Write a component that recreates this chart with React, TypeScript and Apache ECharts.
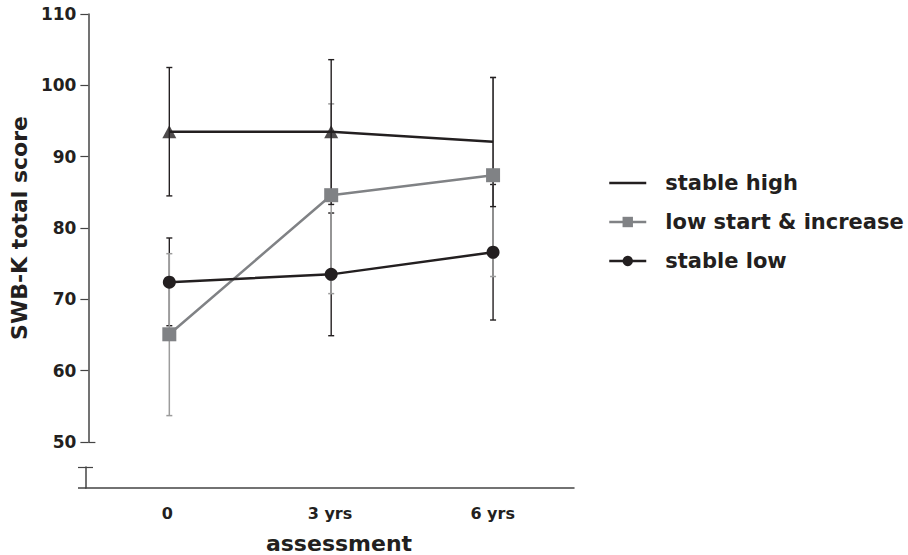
import React, { useEffect, useRef } from "react";
import * as echarts from "echarts";

const categories = ["0", "3 yrs", "6 yrs"];

const stableHigh = [93.5, 93.5, 92.1];
const stableHighMarkers: (number | string)[] = [93.5, 93.5, "-"];
const stableHighErr = [
  [84.5, 102.5],
  [83.3, 103.6],
  [83.0, 101.1],
];

const lowStart = [65.1, 84.6, 87.4];
const lowStartErr = [
  [53.7, 76.4],
  [70.8, 97.4],
  [73.2, 101.1],
];

const stableLow = [72.4, 73.5, 76.6];
const stableLowErr = [
  [66.3, 78.6],
  [64.9, 82.1],
  [67.1, 86.1],
];

const BLACK = "#231f20";
const GRAY = "#808285";
const GRAY_ERR = "#9c9c9c";
const FONT = "DejaVu Sans";

const GRID_LEFT = 86;
const GRID_RIGHT = 334;

function errRender(color: string, lw: number, cap: number) {
  return (params: any, api: any) => {
    const x = api.value(0);
    const lo = api.value(1);
    const hi = api.value(2);
    const a = api.coord([x, lo]);
    const b = api.coord([x, hi]);
    const st = { stroke: color, lineWidth: lw };
    return {
      type: "group",
      children: [
        { type: "line", shape: { x1: a[0], y1: a[1], x2: b[0], y2: b[1] }, style: st },
        { type: "line", shape: { x1: a[0] - cap, y1: a[1], x2: a[0] + cap, y2: a[1] }, style: st },
        { type: "line", shape: { x1: b[0] - cap, y1: b[1], x2: b[0] + cap, y2: b[1] }, style: st },
      ],
    };
  };
}

function errData(arr: number[][]) {
  return arr.map((r, i) => [i, r[0], r[1]]);
}

export default function App() {
  const ref = useRef<HTMLDivElement>(null);
  useEffect(() => {
    if (!ref.current) return;
    const chart = echarts.init(ref.current, undefined, { renderer: "svg" });
    const labelStyle = { fontFamily: FONT, fontWeight: "bold" as const, color: BLACK };
    chart.setOption({
      animation: false,
      backgroundColor: "#ffffff",
      grid: [
        { left: GRID_LEFT, right: GRID_RIGHT, top: 14, height: 428 },
        { left: GRID_LEFT, right: GRID_RIGHT, top: 467, height: 21 },
      ],
      xAxis: [
        {
          type: "category",
          gridIndex: 0,
          data: categories,
          boundaryGap: true,
          show: false,
        },
        {
          type: "category",
          gridIndex: 1,
          data: categories,
          boundaryGap: true,
          axisLine: { lineStyle: { color: "#444", width: 1.5 } },
          axisTick: { alignWithLabel: true, length: 6, lineStyle: { color: "#444", width: 1.2 } },
          axisLabel: { ...labelStyle, fontSize: 16, margin: 17 },
          name: "assessment",
          nameLocation: "middle",
          nameGap: 44,
          nameTextStyle: { ...labelStyle, fontSize: 22, padding: [0, 0, 0, 18] },
        },
      ],
      yAxis: [
        {
          type: "value",
          gridIndex: 0,
          min: 50,
          max: 110,
          interval: 10,
          splitLine: { show: false },
          axisLine: { show: true, lineStyle: { color: "#444", width: 1.5 } },
          axisTick: { show: true, length: 8, lineStyle: { color: "#444", width: 1.2 } },
          axisLabel: { ...labelStyle, fontSize: 17, margin: 12 },
          name: "SWB-K total score",
          nameLocation: "middle",
          nameGap: 58,
          nameTextStyle: { ...labelStyle, fontSize: 22 },
        },
        {
          type: "value",
          gridIndex: 0,
          min: 50,
          max: 110,
          position: "left",
          splitLine: { show: false },
          axisLine: { show: false },
          axisLabel: { show: false },
          axisTick: {
            show: true,
            inside: true,
            length: 7,
            customValues: [50],
            lineStyle: { color: "#444", width: 1.2 },
          },
        },
        {
          type: "value",
          gridIndex: 1,
          min: 0,
          max: 1,
          splitLine: { show: false },
          axisLine: { show: true, lineStyle: { color: "#444", width: 1.5 } },
          axisLabel: { show: false },
          axisTick: {
            show: true,
            length: 8,
            customValues: [1],
            lineStyle: { color: "#444", width: 1.2 },
          },
        },
        {
          type: "value",
          gridIndex: 1,
          min: 0,
          max: 1,
          position: "left",
          splitLine: { show: false },
          axisLine: { show: false },
          axisLabel: { show: false },
          axisTick: {
            show: true,
            inside: true,
            length: 7,
            customValues: [1],
            lineStyle: { color: "#444", width: 1.2 },
          },
        },
      ],
      legend: {
        orient: "vertical",
        left: 603,
        top: 166,
        itemWidth: 37,
        itemHeight: 13,
        itemGap: 15,
        lineStyle: { width: 2.5 },
        textStyle: { ...labelStyle, fontSize: 21, lineHeight: 24, padding: [0, 0, 0, 14] },
        data: [
          { name: "stable high", itemStyle: { opacity: 0 } },
          "low start & increase",
          "stable low",
        ],
      },
      graphic: [
        {
          type: "line",
          shape: { x1: GRID_LEFT - 8, y1: 488, x2: GRID_LEFT, y2: 488 },
          style: { stroke: "#444", lineWidth: 1.5 },
        },
      ],
      series: [
        {
          type: "custom",
          name: "sl-err",
          xAxisIndex: 0,
          yAxisIndex: 0,
          renderItem: errRender(BLACK, 1.4, 3),
          encode: { x: 0, y: [1, 2] },
          data: errData(stableLowErr),
          z: 1,
        },
        {
          type: "custom",
          name: "ls-err",
          xAxisIndex: 0,
          yAxisIndex: 0,
          renderItem: errRender(GRAY_ERR, 1.5, 3),
          encode: { x: 0, y: [1, 2] },
          data: errData(lowStartErr),
          z: 2,
        },
        {
          type: "custom",
          name: "sh-err",
          xAxisIndex: 0,
          yAxisIndex: 0,
          renderItem: errRender(BLACK, 1.4, 3),
          encode: { x: 0, y: [1, 2] },
          data: errData(stableHighErr),
          z: 3,
        },
        {
          type: "line",
          name: "stable high",
          xAxisIndex: 0,
          yAxisIndex: 0,
          data: stableHigh,
          symbol: "none",
          lineStyle: { color: BLACK, width: 2.5 },
          itemStyle: { color: BLACK },
          z: 5,
        },
        {
          type: "scatter",
          name: "sh-markers",
          xAxisIndex: 0,
          yAxisIndex: 0,
          data: stableHighMarkers,
          symbol: "triangle",
          symbolSize: [14, 13],
          itemStyle: { color: BLACK },
          z: 6,
        },
        {
          type: "line",
          name: "low start & increase",
          xAxisIndex: 0,
          yAxisIndex: 0,
          data: lowStart,
          symbol: "rect",
          symbolSize: 14,
          lineStyle: { color: GRAY, width: 2.5 },
          itemStyle: { color: GRAY },
          z: 5,
        },
        {
          type: "line",
          name: "stable low",
          xAxisIndex: 0,
          yAxisIndex: 0,
          data: stableLow,
          symbol: "circle",
          symbolSize: 13,
          lineStyle: { color: BLACK, width: 2.5 },
          itemStyle: { color: BLACK },
          z: 5,
        },
      ],
    });
    return () => chart.dispose();
  }, []);
  return (
    <div
      ref={ref}
      style={{ position: "absolute", left: 0, top: 0, width: 908, height: 555 }}
    />
  );
}
